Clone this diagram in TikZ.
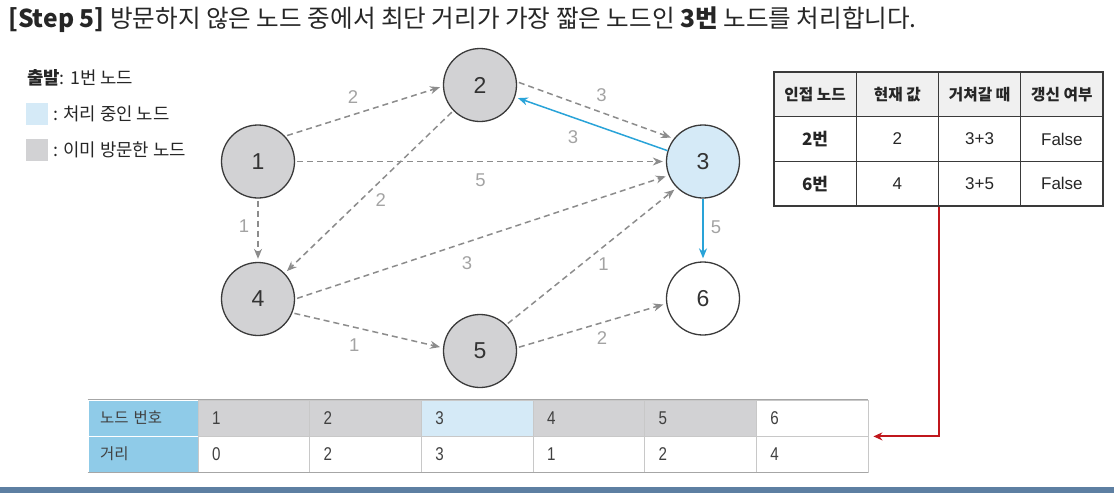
\documentclass[tikz,border=0pt]{standalone}
\usepackage{fontspec}
\setmainfont{Liberation Sans}
\newfontfamily\kr{Noto Sans CJK KR}
\newfontfamily\narrowsf[FakeStretch=0.82]{Liberation Sans}
\usetikzlibrary{arrows.meta}

\definecolor{visited}{HTML}{D2D2D4}
\definecolor{current}{HTML}{D5EAF7}
\definecolor{nodeline}{HTML}{3A3A3A}
\definecolor{edgegray}{HTML}{8C8C8C}
\definecolor{lblgray}{HTML}{A3A3A3}
\definecolor{curblue}{HTML}{29A3D8}
\definecolor{redline}{HTML}{C0171C}
\definecolor{theadgray}{HTML}{F0F0F0}
\definecolor{dheadblue}{HTML}{8FCBE8}
\definecolor{dline}{HTML}{C8C8C8}
\definecolor{barblue}{HTML}{5D7FA2}

\begin{document}
\begin{tikzpicture}[x=1pt, y=-1pt,
    vnode/.style={circle, draw=nodeline, line width=1.3pt, minimum size=73pt,
                  inner sep=0pt, text=black!80, font=\fontsize{23}{23}\selectfont},
    gedge/.style={-{Stealth[length=10pt, width=8pt]}, draw=edgegray, line width=1.5pt,
                  dash pattern=on 6pt off 4pt, shorten >=3pt, shorten <=2pt},
    bedge/.style={-{Stealth[length=10pt, width=8pt]}, draw=curblue, line width=1.5pt,
                  shorten >=3pt},
    lbl/.style={text=lblgray, inner sep=0pt, font=\fontsize{18.5}{18.5}\selectfont},
    legtxt/.style={anchor=west, inner sep=0pt, text=black!85,
                   font=\kr\fontsize{17.8}{17.8}\selectfont},
    swatch/.style={minimum size=22pt, inner sep=0pt},
    tcell/.style={draw=nodeline, line width=1.2pt, minimum width=82.25pt,
                  minimum height=44.67pt, inner sep=0pt, text=black!85,
                  font=\fontsize{17}{17}\selectfont},
    thead/.style={tcell, fill=theadgray, font=\kr\bfseries\fontsize{15.7}{15.7}\selectfont},
    dcell/.style={draw=dline, line width=0.8pt, minimum height=36pt, text width=83.67pt,
                  inner xsep=14pt, inner ysep=0pt, align=left, text=black!75,
                  font=\narrowsf\fontsize{18.5}{18.5}\selectfont},
    dhead/.style={dcell, draw=white, fill=dheadblue, text width=86pt, inner xsep=12pt,
                  font=\kr\fontsize{15.5}{15.5}\selectfont},
    tborder/.style={draw=black!35, line width=1.6pt},
    redarrow/.style={-{Stealth[length=9pt, width=8pt]}, draw=redline, line width=2pt}
]
\useasboundingbox (0,0) rectangle (1114,493);

% title
\node[anchor=west, inner sep=0pt, text=black!85] (title) at (8,20)
  {\kr\fontsize{24.6}{24.6}\selectfont\textbf{[Step 5]} 방문하지 않은 노드 중에서 최단 거리가 가장 짧은 노드인 \textbf{3번} 노드를 처리합니다.};

% legend
\node[legtxt] (start) at (27,78) {\textbf{출발}: 1번 노드};
\node[swatch, fill=current] (swcur) at (37,114) {};
\node[legtxt] (lcur) at (53,114) {: 처리 중인 노드};
\node[swatch, fill=visited] (swvis) at (37,150) {};
\node[legtxt] (lvis) at (53,150) {: 이미 방문한 노드};

% graph
\node[vnode, fill=visited] (n1) at (258,161.5) {1};
\node[vnode, fill=visited] (n2) at (480,85)    {2};
\node[vnode, fill=current] (n3) at (703,161.5) {3};
\node[vnode, fill=visited] (n4) at (258,299)   {4};
\node[vnode, fill=visited] (n5) at (480,351)   {5};
\node[vnode, fill=white]   (n6) at (703,298.5) {6};

\draw[gedge] (n1.43) -- node[lbl, pos=0.43, yshift=18pt]{2} (n2.182);
\draw[gedge] (n2.5) -- node[lbl, pos=0.54, yshift=17pt]{3} (n3.142);
\draw[bedge] (n3.163) -- node[lbl, pos=0.62, yshift=-20pt]{3} (n2.-19);
\draw[gedge] (n1) -- node[lbl, pos=0.5, yshift=-19pt]{5} (n3);
\draw[gedge] (n2) -- node[lbl, pos=0.43, yshift=-19pt]{2} (n4);
\draw[gedge] (n1) -- node[lbl, pos=0.43, xshift=-14pt]{1} (n4);
\draw[gedge] (n4.0) -- node[lbl, pos=0.46, yshift=-21pt]{3} (n3.202);
\draw[gedge] (n5.45) -- node[lbl, pos=0.57, yshift=-17pt]{1} (n3.225);
\draw[bedge] (n3) -- node[lbl, pos=0.46, xshift=13pt]{5} (n6);
\draw[gedge] (n4.-22) -- node[lbl, pos=0.41, yshift=-18pt]{1} (n5.175);
\draw[gedge] (n5.5) -- node[lbl, pos=0.57, yshift=-15pt]{2} (n6.188);

% adjacency table
\foreach \txt [count=\c] in {인접 노드, 현재 값, 거쳐갈 때, 갱신 여부}
  \node[thead] (adj-1-\c) at ({774+82.25*(\c-0.5)}, 94.33) {\txt};
\foreach \a/\b/\d/\e [count=\r from 2] in {2번/2/3+3/False, 6번/4/3+5/False} {
  \node[tcell] (adj-\r-1) at (815.1, {72+44.67*(\r-0.5)}) {\kr\bfseries\a};
  \node[tcell] (adj-\r-2) at (897.4, {72+44.67*(\r-0.5)}) {\b};
  \node[tcell] (adj-\r-3) at (979.6, {72+44.67*(\r-0.5)}) {\d};
  \node[tcell] (adj-\r-4) at (1061.9, {72+44.67*(\r-0.5)}) {\e};
}

% distance table
\node[dhead] (dh1) at (143,418) {노드 번호};
\node[dhead] (dh2) at (143,454) {거리};
\foreach \v/\f [count=\c] in {1/visited, 2/visited, 3/current, 4/visited, 5/visited, 6/white}
  \node[dcell, fill=\f] (dn\c) at ({198+111.67*(\c-0.5)}, 418) {\v};
\foreach \d [count=\c] in {0, 2, 3, 1, 2, 4}
  \node[dcell] (dd\c) at ({198+111.67*(\c-0.5)}, 454) {\d};
\draw[tborder] (dh1.north west) -- (dn6.north east);
\draw[tborder] (dh2.south west) -- (dd6.south east);

\draw[redarrow] (adj-3-2.south east) |- ([xshift=5pt]dn6.south east);

% bottom strip
\fill[barblue] (0,487) rectangle (1114,493);

\end{tikzpicture}
\end{document}
